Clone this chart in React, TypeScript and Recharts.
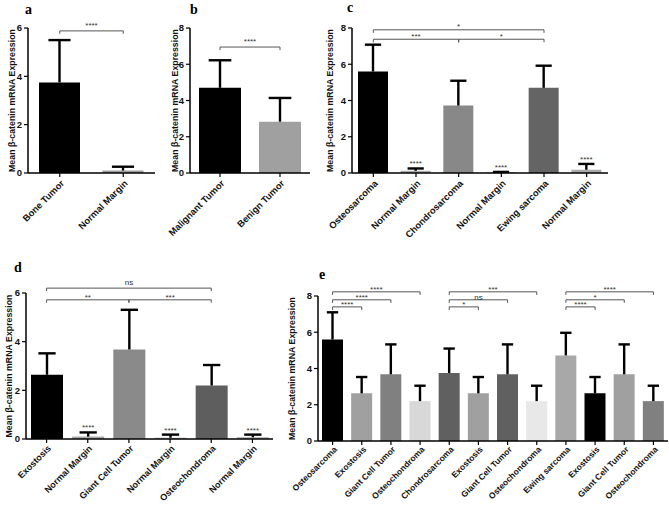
import React from "react"
import { BarChart, Bar, XAxis, YAxis, ReferenceLine, LabelList, Cell } from "recharts"

// panel a
const aNames = ["Bone Tumor", "Normal Margin"]
const aMeans = [3.75, 0.1]
const aSds = [1.75, 0.16]
const aColors = ["#000000", "#9c9c9c"]

// panel b
const bNames = ["Malignant Tumor", "Benign Tumor"]
const bMeans = [4.7, 2.83]
const bSds = [1.52, 1.31]
const bColors = ["#000000", "#a0a0a0"]

// panel c
const cNames = ["Osteosarcoma", "Normal Margin", "Chondrosarcoma", "Normal Margin", "Ewing sarcoma", "Normal Margin"]
const cMeans = [5.6, 0.12, 3.72, 0.03, 4.7, 0.18]
const cSds = [1.48, 0.13, 1.37, 0.03, 1.22, 0.32]
const cSig = ["", "****", "", "****", "", "****"]
const cColors = ["#000000", "#a8a8a8", "#888888", "#8c8c8c", "#646464", "#aaaaaa"]

// panel d
const dNames = ["Exostosis", "Normal Margin", "Giant Cell Tumor", "Normal Margin", "Osteochondroma", "Normal Margin"]
const dMeans = [2.64, 0.1, 3.68, 0.05, 2.2, 0.07]
const dSds = [0.88, 0.17, 1.63, 0.13, 0.84, 0.11]
const dSig = ["", "****", "", "****", "", "****"]
const dColors = ["#000000", "#aaaaaa", "#8a8a8a", "#aaaaaa", "#5e5e5e", "#aaaaaa"]

// panel e
const eNames = [
  "Osteosarcoma", "Exostosis", "Giant Cell Tumor", "Osteochondroma",
  "Chondrosarcoma", "Exostosis", "Giant Cell Tumor", "Osteochondroma",
  "Ewing sarcoma", "Exostosis", "Giant Cell Tumor", "Osteochondroma",
]
const eMeans = [5.6, 2.63, 3.68, 2.2, 3.75, 2.63, 3.68, 2.2, 4.72, 2.63, 3.68, 2.2]
const eSds = [1.5, 0.9, 1.65, 0.85, 1.35, 0.9, 1.65, 0.85, 1.25, 0.9, 1.65, 0.85]
const eColors = [
  "#000000", "#a0a0a0", "#808080", "#d8d8d8",
  "#606060", "#a0a0a0", "#606060", "#e8e8e8",
  "#a8a8a8", "#000000", "#a0a0a0", "#808080",
]

type Bracket = { from: number; to: number; y: number; label: string; off?: number }

const aBrackets: Bracket[] = [{ from: 0, to: 1, y: 5.88, label: "****", off: 3 }]
const bBrackets: Bracket[] = [{ from: 0, to: 1, y: 6.95, label: "****", off: 3 }]
const cBrackets: Bracket[] = [
  { from: 0, to: 4, y: 7.9, label: "*", off: 1 },
  { from: 0, to: 2, y: 7.38, label: "***", off: 0 },
  { from: 2, to: 4, y: 7.38, label: "*", off: 0 },
]
const dBrackets: Bracket[] = [
  { from: 0, to: 4, y: 6.2, label: "ns", off: 3 },
  { from: 0, to: 2, y: 5.72, label: "**", off: 0 },
  { from: 2, to: 4, y: 5.72, label: "***", off: 0 },
]
const eBrackets: Bracket[] = [
  { from: 0, to: 3, y: 8.23, label: "****" },
  { from: 0, to: 2, y: 7.79, label: "****" },
  { from: 0, to: 1, y: 7.4, label: "****" },
  { from: 4, to: 7, y: 8.23, label: "***" },
  { from: 4, to: 6, y: 7.79, label: "ns" },
  { from: 4, to: 5, y: 7.4, label: "*" },
  { from: 8, to: 11, y: 8.23, label: "****" },
  { from: 8, to: 10, y: 7.79, label: "*" },
  { from: 8, to: 9, y: 7.4, label: "****" },
]

const FONT = "'Liberation Sans', Arial, sans-serif"
const YTITLE = "Mean \u03b2-catenin mRNA Expression"

// whisker drawn on the stacked sd segment: vertical line + cap
const Whisker = (props: any) => {
  const { x, y, width, height } = props
  const cx = x + width / 2
  const cap = width * 0.27
  return (
    <g>
      <line x1={cx} y1={y + height} x2={cx} y2={y} stroke="#000" strokeWidth={2.4} />
      <line x1={cx - cap} y1={y} x2={cx + cap} y2={y} stroke="#000" strokeWidth={2.4} />
    </g>
  )
}

function makeTick(names: string[], size: number, dy: number) {
  return (props: any) => {
    const { x, y, payload } = props
    return (
      <g transform={`translate(${x + 5},${y + dy})`}>
        <text x={0} y={0} textAnchor="end" transform="rotate(-45)" fontSize={size} fontWeight="bold" fill="#111" fontFamily={FONT}>
          {names[Number(payload.value)]}
        </text>
      </g>
    )
  }
}

function bracketLines(brackets: Bracket[], drop: number) {
  return brackets.flatMap((b, i) => {
    const x1 = String(b.from)
    const x2 = String(b.to)
    return [
      <ReferenceLine
        key={`h${i}`}
        segment={[{ x: x1, y: b.y }, { x: x2, y: b.y }]}
        stroke="#555"
        strokeWidth={1}
        ifOverflow="visible"
        label={{ value: b.label, position: "top", offset: b.off ?? 0, fontSize: 8, fill: "#333", fontFamily: FONT }}
      />,
      <ReferenceLine key={`l${i}`} segment={[{ x: x1, y: b.y }, { x: x1, y: b.y - drop }]} stroke="#555" strokeWidth={1} ifOverflow="visible" />,
      <ReferenceLine key={`r${i}`} segment={[{ x: x2, y: b.y }, { x: x2, y: b.y - drop }]} stroke="#555" strokeWidth={1} ifOverflow="visible" />,
    ]
  })
}

interface PanelProps {
  left: number
  top: number
  width: number
  height: number
  margin: { top: number; right: number; left: number; bottom: number }
  yWidth: number
  xHeight: number
  titleX: number
  names: string[]
  means: number[]
  sds: number[]
  colors: string[]
  sig?: string[]
  yMax: number
  ticks: number[]
  brackets: Bracket[]
  barSize: number
  drop: number
  tickSize?: number
  tickDy?: number
}

function Panel(p: PanelProps) {
  const data = p.names.map((n, i) => ({
    id: String(i),
    mean: p.means[i],
    sd: p.sds[i],
    sig: p.sig ? p.sig[i] : "",
  }))
  return (
    <div style={{ position: "absolute", left: p.left, top: p.top }}>
      <BarChart width={p.width} height={p.height} data={data} margin={p.margin} barSize={p.barSize}>
        <XAxis
          dataKey="id"
          interval={0}
          height={p.xHeight}
          tick={makeTick(p.names, p.tickSize ?? 9.3, p.tickDy ?? 5)}
          tickSize={4}
          axisLine={{ stroke: "#000", strokeWidth: 1.5 }}
          tickLine={{ stroke: "#000", strokeWidth: 1.2 }}
        />
        <YAxis
          width={p.yWidth}
          domain={[0, p.yMax]}
          ticks={p.ticks}
          interval={0}
          tickSize={4}
          tick={{ fontSize: 9.5, fontWeight: "bold", fill: "#111", fontFamily: FONT }}
          axisLine={{ stroke: "#000", strokeWidth: 1.5 }}
          tickLine={{ stroke: "#000", strokeWidth: 1.2 }}
          label={{
            value: YTITLE,
            angle: -90,
            position: "insideLeft",
            offset: p.titleX,
            style: { textAnchor: "middle", fontSize: 8.8, fontWeight: "bold", fill: "#111", fontFamily: FONT },
          }}
        />
        <Bar dataKey="mean" stackId="s" isAnimationActive={false}>
          {data.map((d, i) => (
            <Cell key={d.id} fill={p.colors[i]} />
          ))}
        </Bar>
        <Bar dataKey="sd" stackId="s" fill="transparent" shape={Whisker} isAnimationActive={false}>
          {p.sig ? <LabelList dataKey="sig" position="top" offset={2} fontSize={8} fill="#333" fontFamily={FONT} /> : null}
        </Bar>
        {bracketLines(p.brackets, p.drop)}
      </BarChart>
    </div>
  )
}

const letterStyle: React.CSSProperties = {
  position: "absolute",
  fontFamily: "'Liberation Serif', 'Times New Roman', serif",
  fontWeight: "bold",
  fontSize: 14,
  lineHeight: "14px",
}

export default function App() {
  return (
    <div style={{ position: "absolute", left: 0, top: 0, width: 669, height: 505, background: "#fff", overflow: "hidden" }}>
      <Panel
        left={0} top={0} width={160} height={250}
        margin={{ top: 28, right: 5, left: 0, bottom: 0 }}
        yWidth={28} xHeight={77} titleX={12}
        names={aNames} means={aMeans} sds={aSds} colors={aColors}
        yMax={6} ticks={[0, 2, 4, 6]} brackets={aBrackets} barSize={41} drop={0.12}
      />
      <Panel
        left={160} top={0} width={155} height={250}
        margin={{ top: 28, right: 5, left: 0, bottom: 0 }}
        yWidth={30} xHeight={77} titleX={15}
        names={bNames} means={bMeans} sds={bSds} colors={bColors}
        yMax={8} ticks={[0, 2, 4, 6, 8]} brackets={bBrackets} barSize={42} drop={0.17}
      />
      <Panel
        left={315} top={0} width={354} height={250}
        margin={{ top: 28, right: 61, left: 0, bottom: 0 }}
        yWidth={37} xHeight={77} titleX={15}
        names={cNames} means={cMeans} sds={cSds} colors={cColors} sig={cSig}
        yMax={8} ticks={[0, 2, 4, 6, 8]} brackets={cBrackets} barSize={30} drop={0.17}
      />
      <Panel
        left={0} top={250} width={290} height={255}
        margin={{ top: 43, right: 17, left: 0, bottom: 0 }}
        yWidth={26} xHeight={66} titleX={9}
        names={dNames} means={dMeans} sds={dSds} colors={dColors} sig={dSig}
        yMax={6} ticks={[0, 2, 4, 6]} brackets={dBrackets} barSize={32} drop={0.12}
        tickSize={9} tickDy={4}
      />
      <Panel
        left={275} top={250} width={394} height={255}
        margin={{ top: 46, right: 1, left: 0, bottom: 0 }}
        yWidth={43} xHeight={64} titleX={17}
        names={eNames} means={eMeans} sds={eSds} colors={eColors}
        yMax={8} ticks={[0, 2, 4, 6, 8]} brackets={eBrackets} barSize={21} drop={0.17}
        tickSize={8.5} tickDy={3}
      />
      <div style={{ ...letterStyle, left: 25, top: 3 }}>a</div>
      <div style={{ ...letterStyle, left: 190, top: 3 }}>b</div>
      <div style={{ ...letterStyle, left: 347, top: 1 }}>c</div>
      <div style={{ ...letterStyle, left: 14, top: 261 }}>d</div>
      <div style={{ ...letterStyle, left: 319, top: 268 }}>e</div>
    </div>
  )
}
